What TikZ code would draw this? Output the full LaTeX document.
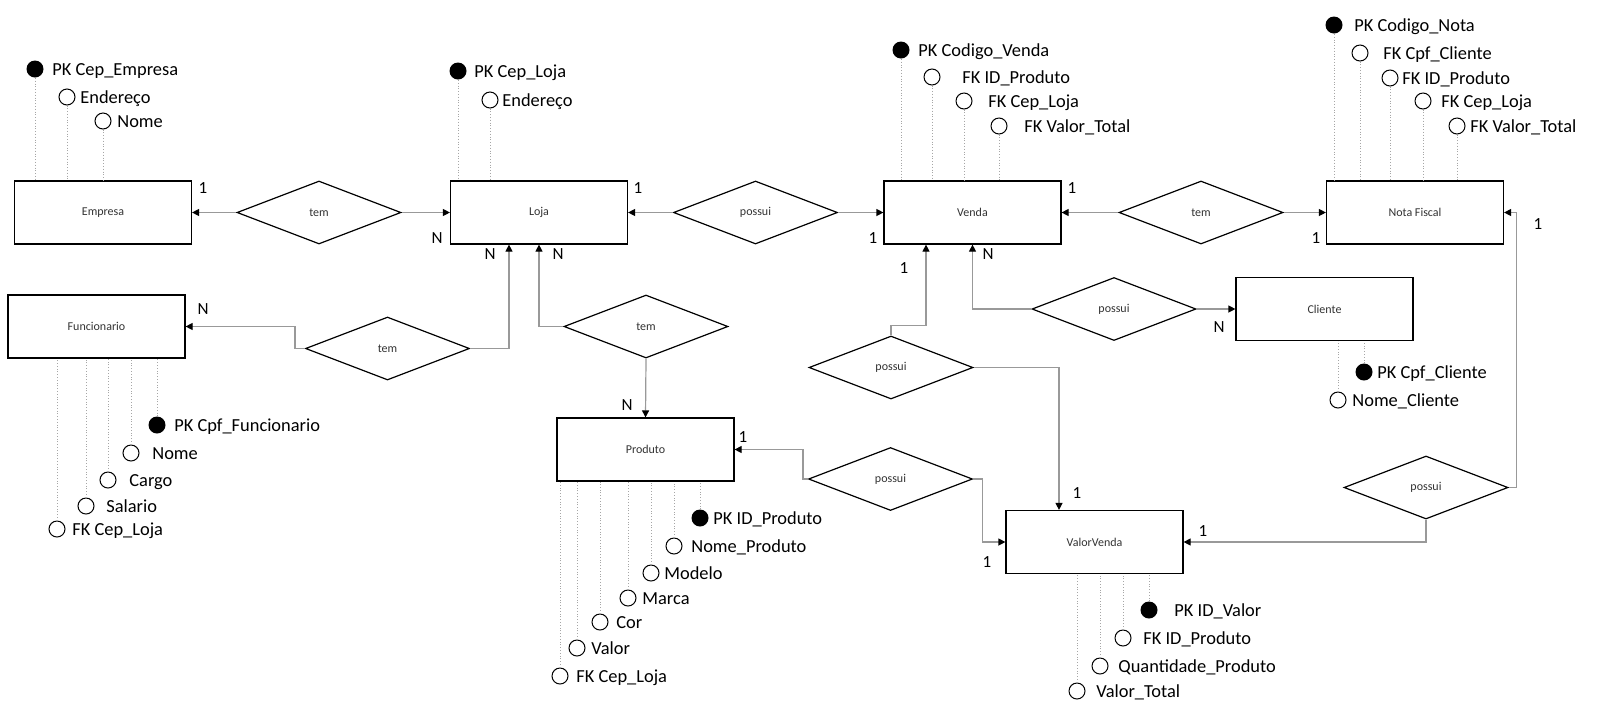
\documentclass[tikz,border=0pt]{standalone}
\usepackage{fontspec}
\setmainfont{Carlito}
\usetikzlibrary{shapes.geometric,arrows.meta}
\begin{document}
\begin{tikzpicture}[x=0.5pt,y=-0.5pt]
\tikzset{
 entity/.style={draw=black, line width=0.6pt, rectangle, minimum width=88.5pt, minimum height=31.5pt, inner sep=0pt, font=\fontsize{6}{7}\selectfont, text=black!80, fill=white},
 rel/.style={draw=black, line width=0.6pt, diamond, minimum width=82pt, minimum height=31.5pt, inner sep=0pt, font=\fontsize{6}{7}\selectfont, text=black!80, fill=white},
 attrdot/.style={circle, fill=black, minimum size=8.5pt, inner sep=0pt},
 attrcirc/.style={circle, draw=black, line width=0.5pt, fill=white, minimum size=8pt, inner sep=0pt},
 attrtext/.style={anchor=west, inner sep=0pt, font=\fontsize{9.2}{11}\selectfont, text height=6pt, text depth=0pt},
 card/.style={inner sep=0pt, font=\fontsize{8.5}{10}\selectfont},
 conn/.style={draw=black!40, line width=0.6pt, -{Triangle[length=3.5pt,width=3.5pt,color=black]}},
 attrline/.style={draw=black!35, line width=0.4pt, densely dotted},
}
\useasboundingbox (0,0) rectangle (1600,719);
\fill[white] (0,0) rectangle (1600,719);

% entities
\node[entity] (emp) at (103,212.5) {Empresa};
\node[entity] (loja) at (539,212.5) {Loja};
\node[entity] (venda) at (972.5,212.5) {Venda};
\node[entity] (nf) at (1415,212.5) {Nota Fiscal};
\node[entity] (func) at (96.5,326.5) {Funcionario};
\node[entity] (prod) at (645.5,449.5) {Produto};
\node[entity] (cli) at (1324.5,309) {Cliente};
\node[entity] (vv) at (1094.5,542) {ValorVenda};

% relationships
\node[rel] (r1) at (319,212.5) {tem};
\node[rel] (r2) at (755.5,212.5) {possui};
\node[rel] (r4) at (1201,212.5) {tem};
\node[rel] (rf) at (387.5,348.5) {tem};
\node[rel] (r3) at (646,326.5) {tem};
\node[rel] (r5) at (1114,309) {possui};
\node[rel] (r6) at (891,367.5) {possui};
\node[rel] (r7) at (890.5,479) {possui};
\node[rel] (r8) at (1426,487.5) {possui};

% connectors
\draw[conn] (r1.west) -- (emp.east);
\draw[conn] (r1.east) -- (loja.west);
\draw[conn] (r2.west) -- (loja.east);
\draw[conn] (r2.east) -- (venda.west);
\draw[conn] (r4.west) -- (venda.east);
\draw[conn] (r4.east) -- (nf.west);
\draw[conn] (rf.west) -- ++(-10,0) |- (func.east);
\draw[conn] (rf.east) -| ([xshift=-15pt]loja.south);
\draw[conn] (r3.west) -| (loja.south);
\draw[conn] (r3.south) -- (prod.north);
\draw[conn] (r5.west) -| (venda.south);
\draw[conn] (r5.east) -- (cli.west);
\draw[conn] (r6.north) -- ++(0,-10) -| ([xshift=-23.25pt]venda.south);
\draw[conn] (r6.east) -| ([xshift=-17.75pt]vv.north);
\draw[conn] (r7.west) -- ++(-5,0) |- (prod.east);
\draw[conn] (r7.east) -- ++(9,0) |- (vv.west);
\draw[conn] (r8.east) -- ++(8,0) |- (nf.east);
\draw[conn] (r8.south) |- (vv.east);

% cardinalities
\node[card] (c1) at (203,188) {1};
\node[card] (c2) at (437,238) {N};
\node[card] (c3) at (638,188) {1};
\node[card] (c4) at (490,254) {N};
\node[card] (c5) at (558,254) {N};
\node[card] (c6) at (873,238) {1};
\node[card] (c7) at (1072,188) {1};
\node[card] (c8) at (904,268) {1};
\node[card] (c9) at (988,254) {N};
\node[card] (c10) at (1316,238) {1};
\node[card] (c11) at (1538,224) {1};
\node[card] (c12) at (203,309) {N};
\node[card] (c13) at (627,405) {N};
\node[card] (c14) at (743,437) {1};
\node[card] (c15) at (1219,327) {N};
\node[card] (c16) at (1077,493) {1};
\node[card] (c17) at (987,562) {1};
\node[card] (c18) at (1203,531) {1};

% Empresa attributes
\node[attrdot] (ea1) at (35,69) {};
\node[attrtext] (eat1) at (52,69) {PK Cep\_Empresa};
\node[attrcirc] (ea2) at (67,97) {};
\node[attrtext] (eat2) at (80,97) {Endereço};
\node[attrcirc] (ea3) at (103,121) {};
\node[attrtext] (eat3) at (117,121) {Nome};
\foreach \a in {ea1,ea2,ea3} \draw[attrline] (\a.south) -- (\a.south |- emp.north);

% Loja attributes
\node[attrdot] (la1) at (458,71) {};
\node[attrtext] (lat1) at (474,71) {PK Cep\_Loja};
\node[attrcirc] (la2) at (490,100) {};
\node[attrtext] (lat2) at (502,100) {Endereço};
\foreach \a in {la1,la2} \draw[attrline] (\a.south) -- (\a.south |- loja.north);

% Venda attributes
\node[attrdot] (va1) at (901,50) {};
\node[attrtext] (vat1) at (918,50) {PK Codigo\_Venda};
\node[attrcirc] (va2) at (932,77) {};
\node[attrtext] (vat2) at (962,77) {FK ID\_Produto};
\node[attrcirc] (va3) at (964,101) {};
\node[attrtext] (vat3) at (988,101) {FK Cep\_Loja};
\node[attrcirc] (va4) at (999,126) {};
\node[attrtext] (vat4) at (1024,126) {FK Valor\_Total};
\foreach \a in {va1,va2,va3,va4} \draw[attrline] (\a.south) -- (\a.south |- venda.north);

% Nota Fiscal attributes
\node[attrdot] (na1) at (1334,25) {};
\node[attrtext] (nat1) at (1354,25) {PK Codigo\_Nota};
\node[attrcirc] (na2) at (1360,53) {};
\node[attrtext] (nat2) at (1383,53) {FK Cpf\_Cliente};
\node[attrcirc] (na3) at (1390,78) {};
\node[attrtext] (nat3) at (1402,78) {FK ID\_Produto};
\node[attrcirc] (na4) at (1423,101) {};
\node[attrtext] (nat4) at (1441,101) {FK Cep\_Loja};
\node[attrcirc] (na5) at (1457,126) {};
\node[attrtext] (nat5) at (1470,126) {FK Valor\_Total};
\foreach \a in {na1,na2,na3,na4,na5} \draw[attrline] (\a.south) -- (\a.south |- nf.north);

% Funcionario attributes
\node[attrdot] (fa1) at (157,425) {};
\node[attrtext] (fat1) at (174,425) {PK Cpf\_Funcionario};
\node[attrcirc] (fa2) at (131,453) {};
\node[attrtext] (fat2) at (152,453) {Nome};
\node[attrcirc] (fa3) at (108,480) {};
\node[attrtext] (fat3) at (129,480) {Cargo};
\node[attrcirc] (fa4) at (86,506) {};
\node[attrtext] (fat4) at (106,506) {Salario};
\node[attrcirc] (fa5) at (57,529) {};
\node[attrtext] (fat5) at (72,529) {FK Cep\_Loja};
\foreach \a in {fa1,fa2,fa3,fa4,fa5} \draw[attrline] (\a.north) -- (\a.north |- func.south);

% Produto attributes
\node[attrdot] (pa1) at (700,518) {};
\node[attrtext] (pat1) at (713,518) {PK ID\_Produto};
\node[attrcirc] (pa2) at (674,546) {};
\node[attrtext] (pat2) at (691,546) {Nome\_Produto};
\node[attrcirc] (pa3) at (651,573) {};
\node[attrtext] (pat3) at (664,573) {Modelo};
\node[attrcirc] (pa4) at (628,598) {};
\node[attrtext] (pat4) at (642,598) {Marca};
\node[attrcirc] (pa5) at (600,622) {};
\node[attrtext] (pat5) at (616,622) {Cor};
\node[attrcirc] (pa6) at (577,648) {};
\node[attrtext] (pat6) at (591,648) {Valor};
\node[attrcirc] (pa7) at (560,676) {};
\node[attrtext] (pat7) at (576,676) {FK Cep\_Loja};
\foreach \a in {pa1,pa2,pa3,pa4,pa5,pa6,pa7} \draw[attrline] (\a.north) -- (\a.north |- prod.south);

% Cliente attributes
\node[attrdot] (ca1) at (1364,372) {};
\node[attrtext] (cat1) at (1377,372) {PK Cpf\_Cliente};
\node[attrcirc] (ca2) at (1338,400) {};
\node[attrtext] (cat2) at (1352,400) {Nome\_Cliente};
\foreach \a in {ca1,ca2} \draw[attrline] (\a.north) -- (\a.north |- cli.south);

% ValorVenda attributes
\node[attrdot] (wa1) at (1149,610) {};
\node[attrtext] (wat1) at (1174,610) {PK ID\_Valor};
\node[attrcirc] (wa2) at (1123,638) {};
\node[attrtext] (wat2) at (1143,638) {FK ID\_Produto};
\node[attrcirc] (wa3) at (1100,666) {};
\node[attrtext] (wat3) at (1118,666) {Quantidade\_Produto};
\node[attrcirc] (wa4) at (1077,691) {};
\node[attrtext] (wat4) at (1096,691) {Valor\_Total};
\foreach \a in {wa1,wa2,wa3,wa4} \draw[attrline] (\a.north) -- (\a.north |- vv.south);
\end{tikzpicture}
\end{document}
